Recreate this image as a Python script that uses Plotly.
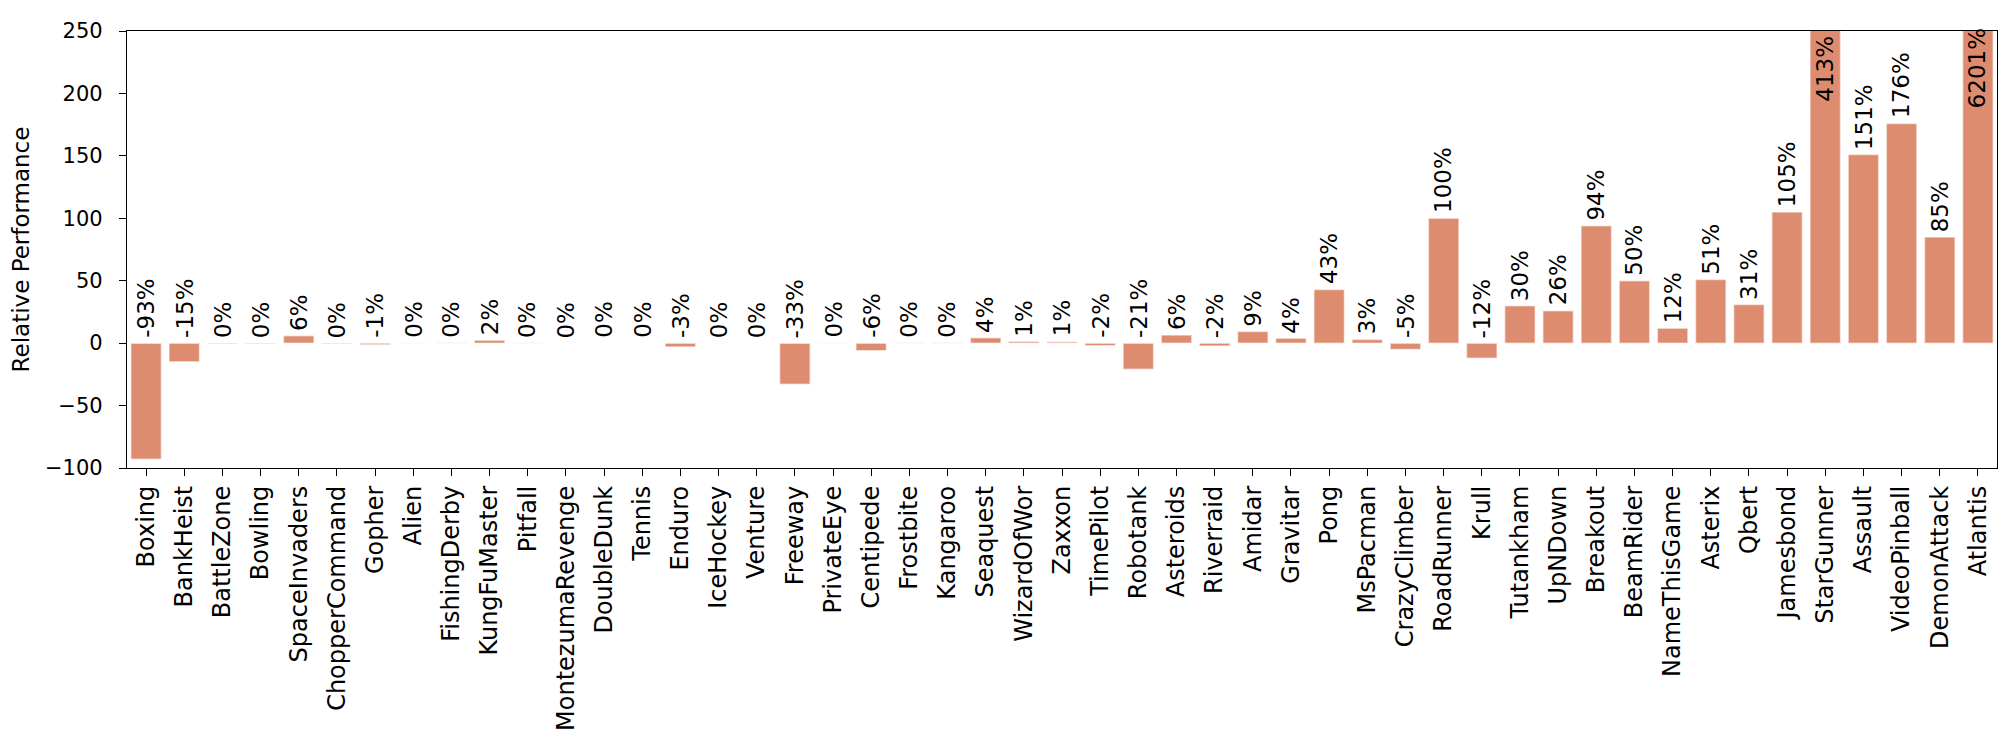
import plotly.graph_objects as go

#%% Data
games = ['Boxing', 'BankHeist', 'BattleZone', 'Bowling', 'SpaceInvaders', 'ChopperCommand',
         'Gopher', 'Alien', 'FishingDerby', 'KungFuMaster', 'Pitfall', 'MontezumaRevenge',
         'DoubleDunk', 'Tennis', 'Enduro', 'IceHockey', 'Venture', 'Freeway', 'PrivateEye',
         'Centipede', 'Frostbite', 'Kangaroo', 'Seaquest', 'WizardOfWor', 'Zaxxon',
         'TimePilot', 'Robotank', 'Asteroids', 'Riverraid', 'Amidar', 'Gravitar', 'Pong',
         'MsPacman', 'CrazyClimber', 'RoadRunner', 'Krull', 'Tutankham', 'UpNDown',
         'Breakout', 'BeamRider', 'NameThisGame', 'Asterix', 'Qbert', 'Jamesbond',
         'StarGunner', 'Assault', 'VideoPinball', 'DemonAttack', 'Atlantis']

# relative performance (%)
rel_perf = [-93, -15, -0.4, -0.4, 6, -0.4,
            -1.3, 0.1, 0.2, 2.4, 0.2, 0,
            0, 0, -3, 0, 0, -33, 0.1,
            -6, 0.2, 0.3, 4.3, 1.4, 1.2,
            -2, -21, 6.5, -2.3, 9.4, 4,
            43, 3, -5, 100, -12, 30, 26,
            94, 50, 12, 51, 31, 105,
            413, 151, 176, 85, 6201]

# printed labels
labels = ['-93%', '-15%', '0%', '0%', '6%', '0%', '-1%', '0%', '0%', '2%', '0%', '0%',
          '0%', '0%', '-3%', '0%', '0%', '-33%', '0%', '-6%', '0%', '0%', '4%', '1%',
          '1%', '-2%', '-21%', '6%', '-2%', '9%', '4%', '43%', '3%', '-5%', '100%',
          '-12%', '30%', '26%', '94%', '50%', '12%', '51%', '31%', '105%', '413%',
          '151%', '176%', '85%', '6201%']

y_min, y_max = -100, 250
bar_color = '#DD8C6F'
font_family = 'DejaVu Sans'

#%% Figure
fig = go.Figure()
fig.add_trace(go.Bar(x=games, y=rel_perf, width=0.8,
                     marker=dict(color=bar_color,
                                 line=dict(color='rgba(255,255,255,0.55)', width=1.5)),
                     showlegend=False))

# rotated value labels
for g, v, t in zip(games, rel_perf, labels):
    if v > y_max:
        # bar clipped by the axis: label sits inside, near the top
        fig.add_annotation(x=g, y=y_max - 30, text=t, textangle=-90, showarrow=False,
                           yanchor='middle', font=dict(family=font_family, size=23, color='black'))
    else:
        fig.add_annotation(x=g, y=max(v, 0), text=t, textangle=-90, showarrow=False,
                           yanchor='bottom', yshift=3,
                           font=dict(family=font_family, size=23, color='black'))

fig.update_layout(
    width=2008, height=742,
    margin=dict(l=119, r=19, t=23, b=282),
    plot_bgcolor='white', paper_bgcolor='white',
    font=dict(family=font_family, size=21, color='black'),
    bargap=0.2,
)

fig.update_xaxes(range=[-0.5, len(games) - 0.5], tickangle=-90, automargin=False,
                 ticks='outside', ticklen=7, tickwidth=1.3, tickcolor='black',
                 showline=True, linecolor='black', linewidth=1.3, mirror=True,
                 showgrid=False, ticklabelstandoff=0,
                 tickfont=dict(family=font_family, size=24))
fig.update_yaxes(range=[y_min, y_max], tickvals=list(range(-100, 251, 50)), automargin=False,
                 ticks='outside', ticklen=7, tickwidth=1.3, tickcolor='black',
                 showline=True, linecolor='black', linewidth=1.3, mirror=True,
                 showgrid=False, zeroline=False, ticklabelstandoff=12,
                 tickfont=dict(family=font_family, size=21),
                 title=dict(text='Relative Performance', standoff=14,
                            font=dict(family=font_family, size=23)))

fig.write_html("out.html")
